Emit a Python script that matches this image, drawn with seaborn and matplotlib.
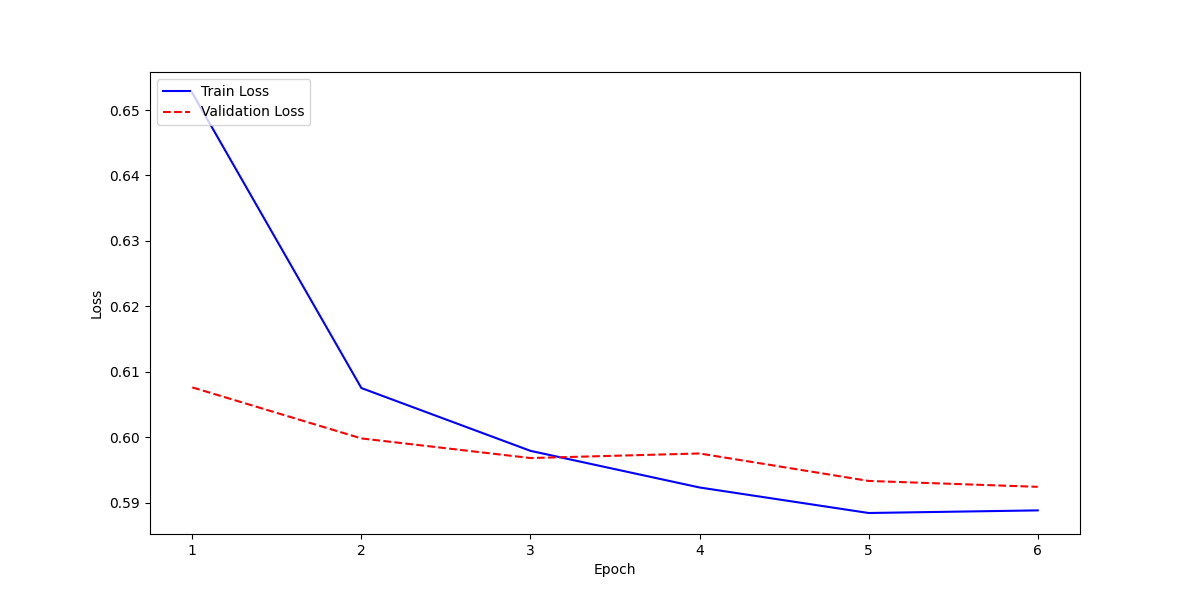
import matplotlib
matplotlib.use("Agg")
import matplotlib.pyplot as plt
import seaborn as sns

epochs = [1, 2, 3, 4, 5, 6]
train_loss = [0.6526, 0.6075, 0.5979, 0.5923, 0.5884, 0.5888]
val_loss = [0.6076, 0.5998, 0.5968, 0.5975, 0.5933, 0.5924]

fig, ax = plt.subplots(figsize=(12, 6), dpi=100)
sns.lineplot(x=epochs, y=train_loss, ax=ax, color="blue", label="Train Loss")
sns.lineplot(x=epochs, y=val_loss, ax=ax, color="red", linestyle="--", label="Validation Loss")
ax.set_xlabel("Epoch")
ax.set_ylabel("Loss")
ax.legend(loc="upper left")
fig.savefig("out.png", dpi=100)
